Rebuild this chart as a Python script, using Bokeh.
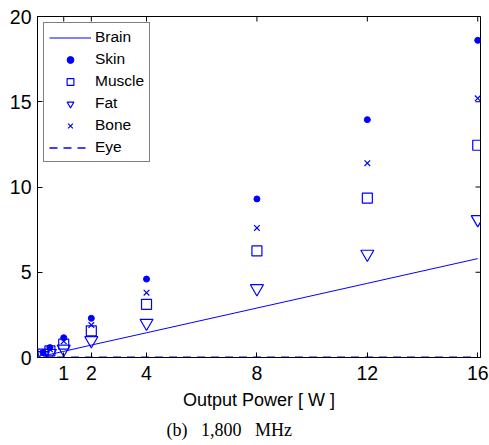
from bokeh.plotting import figure
from bokeh.models import ColumnDataSource, FixedTicker, Legend, LegendItem, Range1d, Title
from bokeh.embed import file_html
from bokeh.resources import INLINE

# Data
power = [0.25, 0.5, 1, 2, 4, 8, 12, 16]
brain = [0.09, 0.18, 0.36, 0.73, 1.45, 2.9, 4.35, 5.8]
skin = [0.29, 0.58, 1.16, 2.3, 4.6, 9.3, 13.95, 18.6]
muscle = [0.2, 0.39, 0.78, 1.56, 3.12, 6.25, 9.35, 12.45]
fat = [0.13, 0.25, 0.5, 1.0, 2.02, 4.05, 6.07, 8.1]
bone = [0.24, 0.48, 0.95, 1.9, 3.8, 7.6, 11.4, 15.2]
eye = [0.01, 0.01, 0.01, 0.01, 0.01, 0.01, 0.01, 0.01]

x_ticks = [1, 2, 4, 8, 12, 16]
y_ticks = [0, 5, 10, 15, 20]
x_label = "Output Power [ W ]"
caption = "(b)\u00a0\u00a0\u00a01,800\u00a0\u00a0\u00a0MHz"

X0, X1 = 0.05, 16.1
Y0, Y1 = 0.0, 20.0
W, H = 489, 445
BL, BR, BT, BB = 37, 9, 16, 88

src = ColumnDataSource(dict(x=power, brain=brain, skin=skin, muscle=muscle,
                            fat=fat, bone=bone, eye=eye))

BLUE = "#0000ff"
FONT = "Liberation Sans"

p = figure(width=W, height=H, output_backend="svg", toolbar_location=None,
           x_range=Range1d(X0, X1), y_range=Range1d(Y0, Y1),
           min_border_left=BL, min_border_right=BR, min_border_top=BT,
           min_border_bottom=BB)
p.background_fill_color = "white"
p.border_fill_color = "white"
p.outline_line_color = "black"
p.outline_line_width = 1
p.grid.visible = False

# Inward ticks on the top and right edges of the box (from tick lists)
tick_px = 5
fw = W - BL - BR
fh = H - BT - BB
dy = tick_px * (Y1 - Y0) / fh
dx = tick_px * (X1 - X0) / fw
p.segment(x0=x_ticks, y0=[Y1] * len(x_ticks), x1=x_ticks,
          y1=[Y1 - dy] * len(x_ticks), line_color="black", line_width=1)
p.segment(x0=[X1] * len(y_ticks), y0=y_ticks, x1=[X1 - dx] * len(y_ticks),
          y1=y_ticks, line_color="black", line_width=1)

r_brain = p.line("x", "brain", source=src, line_color=BLUE, line_width=1)
r_skin = p.scatter("x", "skin", source=src, marker="circle", size=6,
                   fill_color=BLUE, line_color=BLUE)
r_muscle = p.scatter("x", "muscle", source=src, marker="square", size=10,
                     fill_color=None, line_color=BLUE, line_width=1.2)
r_fat = p.scatter("x", "fat", source=src, marker="inverted_triangle", size=13,
                  fill_color=None, line_color=BLUE, line_width=1.2)
r_bone = p.scatter("x", "bone", source=src, marker="x", size=8,
                   line_color=BLUE, line_width=1.2)
r_eye = p.line("x", "eye", source=src, line_color=BLUE, line_width=1.5,
               line_dash="8 6")

for ax in p.xaxis:
    ax.ticker = FixedTicker(ticks=x_ticks)
    ax.axis_label = x_label
for ax in p.yaxis:
    ax.ticker = FixedTicker(ticks=y_ticks)

for ax in p.xaxis + p.yaxis:
    ax.major_tick_in = 5
    ax.major_tick_out = 0
    ax.minor_tick_in = 0
    ax.minor_tick_out = 0
    ax.axis_line_color = "black"
    ax.major_tick_line_color = "black"
    ax.major_label_text_font = FONT
    ax.major_label_text_color = "black"
    ax.major_label_text_font_size = "19.5px"
p.xaxis.major_label_standoff = 8
p.yaxis.major_label_standoff = 6
p.xaxis.axis_label_text_font = FONT
p.xaxis.axis_label_text_font_size = "18px"
p.xaxis.axis_label_text_font_style = "normal"
p.xaxis.axis_label_text_color = "black"
p.xaxis.axis_label_standoff = 7

cap = Title(text=caption, text_font="Liberation Serif", text_font_size="18px",
            text_font_style="normal", text_color="black", align="left",
            offset=129)
p.add_layout(cap, "below")

legend = Legend(items=[
    LegendItem(label="Brain", renderers=[r_brain]),
    LegendItem(label="Skin", renderers=[r_skin]),
    LegendItem(label="Muscle", renderers=[r_muscle]),
    LegendItem(label="Fat", renderers=[r_fat]),
    LegendItem(label="Bone", renderers=[r_bone]),
    LegendItem(label="Eye", renderers=[r_eye]),
], location="top_left")
legend.margin = 6
legend.padding = 5
legend.spacing = 4
legend.glyph_width = 42
legend.glyph_height = 17
legend.label_height = 17
legend.label_standoff = 4
legend.label_text_font = FONT
legend.label_text_font_size = "15.5px"
legend.label_text_color = "black"
legend.border_line_color = "black"
legend.border_line_width = 1
legend.background_fill_alpha = 1
p.add_layout(legend)

open("out.html", "w").write(file_html(p, INLINE))
